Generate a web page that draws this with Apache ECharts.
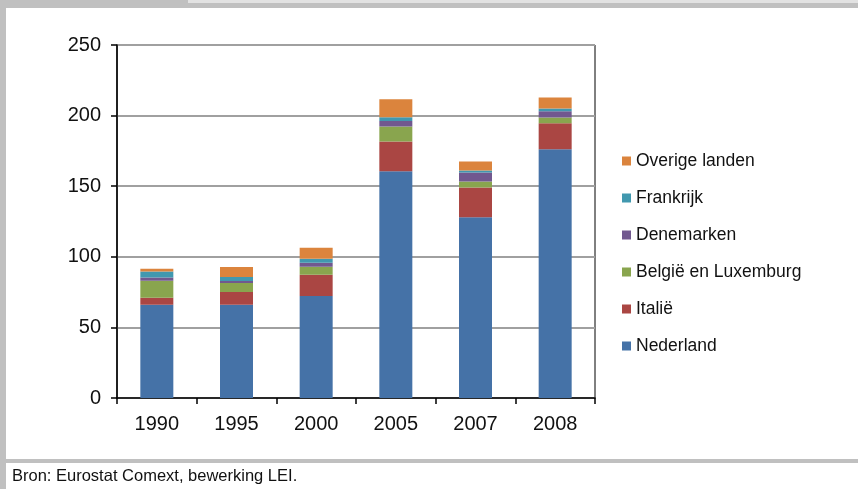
<!DOCTYPE html>
<html>
<head>
<meta charset="utf-8">
<script src="https://cdn.jsdelivr.net/npm/echarts@6/dist/echarts.min.js"></script>
<style>
  html, body { margin: 0; padding: 0; background: #fff; }
  #chart { width: 858px; height: 489px; }
</style>
</head>
<body>
<div id="chart"></div>
<script>
// Exportwaarde per jaar, opgesplitst naar bestemming
const years = ['1990', '1995', '2000', '2005', '2007', '2008'];
const nederland   = [66, 66, 72.3, 160.6, 128, 176.2];
const italie      = [5, 9, 14.9, 21.1, 21, 18.3];
const belgieLux   = [12, 6.4, 5.7, 10.6, 4.3, 4.2];
const denemarken  = [2.3, 1.5, 2.8, 3.8, 6.4, 4.3];
const frankrijk   = [4.3, 2.8, 2.9, 2.8, 1.4, 2.1];
const overige     = [1.9, 7.1, 7.8, 12.6, 6.4, 7.8];
const yTicks = [0, 50, 100, 150, 200, 250];
const source = 'Bron: Eurostat Comext, bewerking LEI.';

const seriesDefs = [
  { name: 'Nederland', data: nederland, color: '#4572a7' },
  { name: 'Italië', data: italie, color: '#aa4643' },
  { name: 'België en Luxemburg', data: belgieLux, color: '#89a54e' },
  { name: 'Denemarken', data: denemarken, color: '#71588f' },
  { name: 'Frankrijk', data: frankrijk, color: '#4198af' },
  { name: 'Overige landen', data: overige, color: '#db843d' }
];

const font = "'Liberation Sans', Arial, sans-serif";
const chart = echarts.init(document.getElementById('chart'), null, { renderer: 'canvas' });

chart.setOption({
  backgroundColor: '#ffffff',
  animation: false,
  grid: {
    left: 117, right: 263, top: 45, bottom: 91,
    show: true, borderColor: '#000', borderWidth: 1, backgroundColor: 'transparent'
  },
  legend: {
    orient: 'vertical',
    left: 617, top: 146,
    itemWidth: 9, itemHeight: 9, itemGap: 17,
    icon: 'rect',
    data: seriesDefs.map(s => s.name).reverse(),
    textStyle: { fontFamily: font, fontSize: 17.5, color: '#111', lineHeight: 20, padding: [0, 0, 0, 0] }
  },
  xAxis: {
    type: 'category',
    data: years,
    axisLine: { lineStyle: { color: '#000', width: 1.5 } },
    axisTick: { show: true, length: 6, lineStyle: { color: '#000', width: 1.5 } },
    axisLabel: { fontFamily: font, fontSize: 20, color: '#111', margin: 16 }
  },
  yAxis: {
    type: 'value',
    min: yTicks[0], max: yTicks[yTicks.length - 1], interval: 50,
    axisLine: { show: true, lineStyle: { color: '#000', width: 1.5 } },
    axisTick: { show: true, length: 6, lineStyle: { color: '#000', width: 1.5 } },
    axisLabel: { fontFamily: font, fontSize: 20, color: '#111', margin: 16 },
    splitLine: { show: true, lineStyle: { color: '#a0a0a0', width: 2 } }
  },
  series: seriesDefs.map(s => ({
    name: s.name,
    type: 'bar',
    stack: 'totaal',
    barWidth: 33,
    data: s.data,
    itemStyle: { color: s.color }
  })),
  graphic: [
    // kader
    { type: 'rect', left: 0, top: 0, shape: { width: 6, height: 489 }, style: { fill: '#c0c0c0' }, silent: true },
    { type: 'rect', left: 0, top: 0, shape: { width: 858, height: 8 }, style: { fill: '#c0c0c0' }, silent: true },
    { type: 'rect', left: 188, top: 0, shape: { width: 670, height: 3 }, style: { fill: '#e2e2e2' }, silent: true },
    { type: 'rect', left: 0, top: 459, shape: { width: 858, height: 4 }, style: { fill: '#c0c0c0' }, silent: true },
    {
      type: 'text', left: 12, top: 468,
      style: { text: source, fontFamily: font, fontSize: 16.5, fill: '#111' }
    }
  ]
});
</script>
</body>
</html>
